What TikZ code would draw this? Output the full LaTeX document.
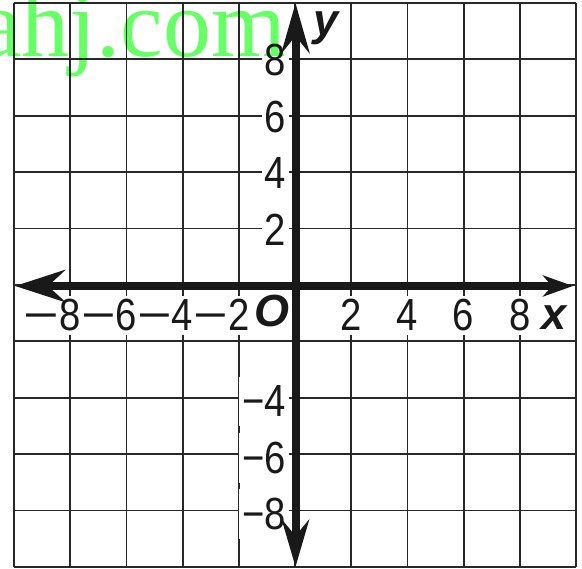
\documentclass[tikz,border=0pt]{standalone}
\usepackage{fontspec}
\setmainfont{Liberation Sans}
\newfontfamily\lblfont{Liberation Sans}[FakeStretch=0.85]
\newfontfamily\wmfont{Liberation Serif}
\usetikzlibrary{arrows.meta}
\definecolor{wm}{RGB}{102,255,102}
\definecolor{gridc}{RGB}{40,40,40}
\definecolor{ink}{RGB}{25,25,25}
\begin{document}
\begin{tikzpicture}[x=1pt,y=-1pt,
  gridline/.style={gridc, line width=1.8pt},
  axisline/.style={ink, line width=8pt},
  ylbl/.style={fill=white, inner xsep=3pt, inner ysep=9pt, anchor=base east,
    font=\lblfont\fontsize{45}{45}\selectfont, text=ink},
  xlbl/.style={fill=white, inner xsep=3pt, inner ysep=4pt, anchor=base,
    font=\lblfont\fontsize{45}{45}\selectfont, text=ink},
  varlbl/.style={font=\fontsize{45}{45}\selectfont\bfseries\itshape, inner sep=0pt,
    anchor=base, text=ink},
  wmstyle/.style={anchor=base west, inner sep=0pt, text=wm,
    font=\wmfont\fontsize{96}{96}\selectfont}
]
\useasboundingbox (0,0) rectangle (582,569);
\fill[white] (0,0) rectangle (582,569);
% grid
\foreach \i in {0,...,10} {
  \draw[gridline] ({14+56.2*\i},3) -- ({14+56.2*\i},567);
  \draw[gridline] (14,{3+56.4*\i}) -- (576,{3+56.4*\i});
}
% y-axis labels
\foreach \v/\yy in {8/59.4, 6/115.8, 4/172.2, 2/228.6}
  \node[ylbl] (yp\v) at (289,{\yy+16.5}) {\v};
\foreach \v/\yy in {4/397.8, 6/454.2, 8/510.6}
  \node[ylbl] (yn\v) at (289,{\yy+19}) {−\v};
% x-axis labels
\foreach \v in {2,4,6,8}
  \node[xlbl] (xp\v) at ({295+28.1*\v},331) {\v};
\foreach \v in {2,4,6,8}
  \node[xlbl] (xn\v) at ({295-28.1*\v},331) {\llap{\scalebox{1.6}[1]{−}}\v};
\node[varlbl] (O) at (272,327) {O};
\node[varlbl] (xlab) at (554,330) {x};
\node[varlbl] (ylab) at (326,36) {y};
% axes
\coordinate (L) at (15,286);
\coordinate (R) at (573,286);
\coordinate (T) at (295.5,3);
\coordinate (B) at (295.5,567);
\draw[axisline, {Stealth[length=50pt,width=32pt,inset=17pt]}-{Stealth[length=30pt,width=21pt,inset=9pt]}] (L) -- (R);
\draw[axisline, {Stealth[length=47pt,width=27pt,inset=16pt]}-{Stealth[length=50pt,width=28pt,inset=17pt]}] (B) -- (T);
% watermark
\begin{scope}[blend mode=multiply]
\node[wmstyle] (wmk) at (-21,57) {ahj.com};
\end{scope}
\end{tikzpicture}
\end{document}
